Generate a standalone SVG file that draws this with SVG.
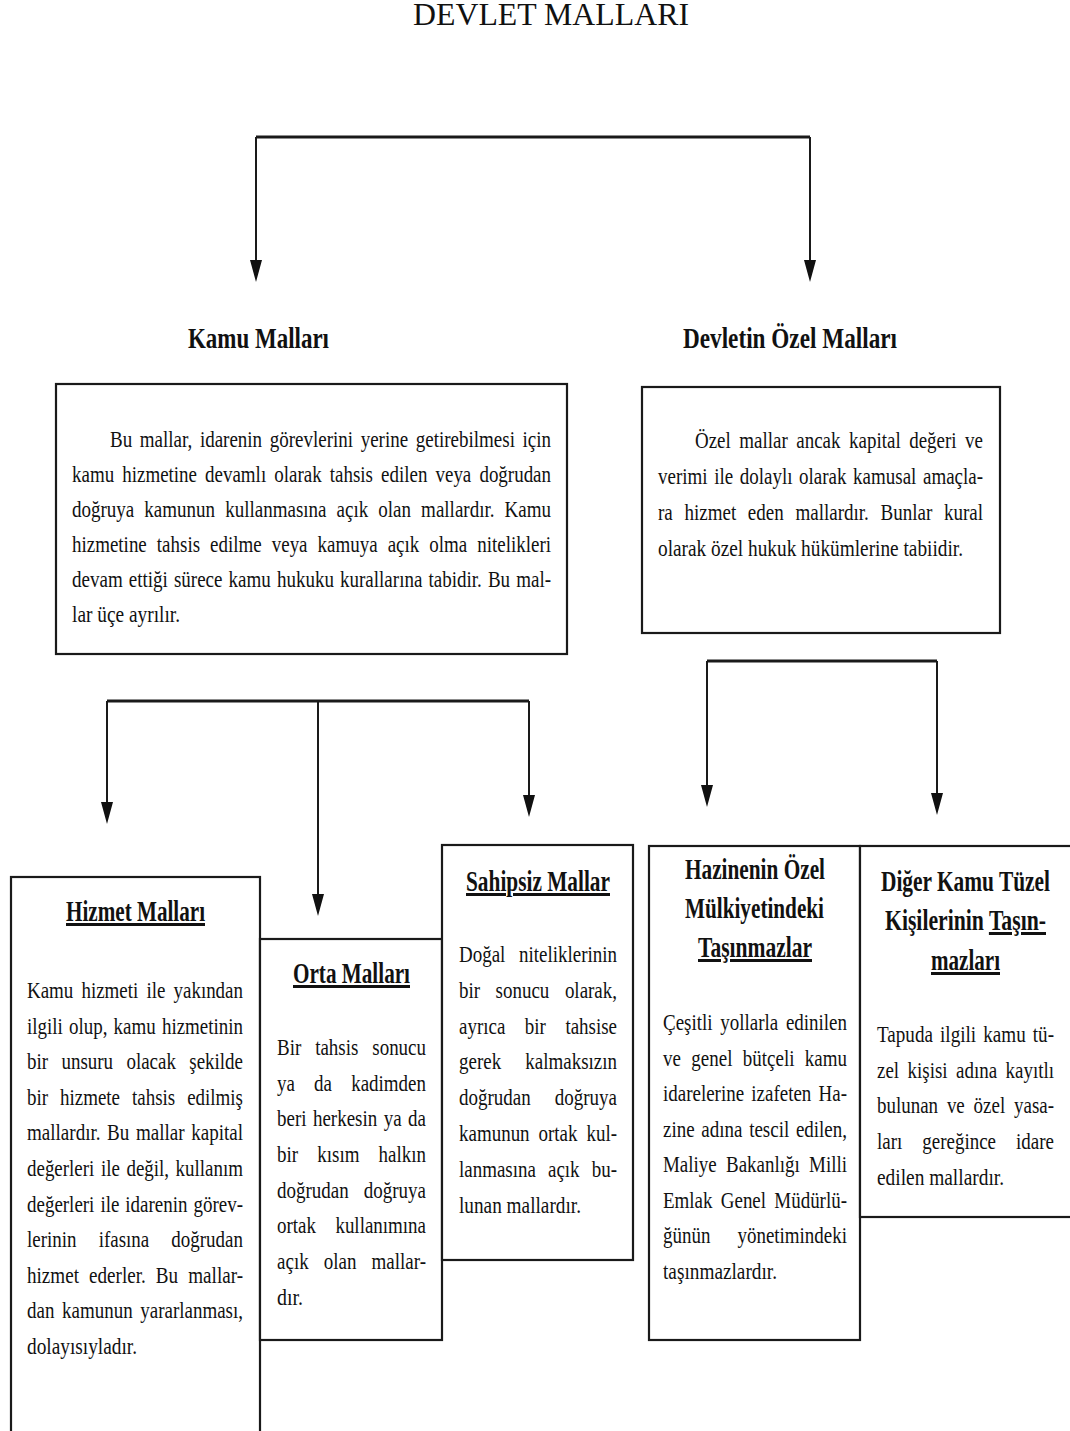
<svg xmlns="http://www.w3.org/2000/svg" width="1070" height="1431" viewBox="0 0 1070 1431">
<defs>
<style>
.box{fill:#fff;stroke:#1a1a1a;stroke-width:2.2}
.bar{stroke:#1a1a1a;stroke-width:3;fill:none}
.stem{stroke:#1a1a1a;stroke-width:2;fill:none;marker-end:url(#ah)}
.t{font-family:"Liberation Serif","Times New Roman",serif;fill:#111}
.title{font-size:32px}
.h{font-size:30px;font-weight:bold}
.b{font-size:24px}
.u{text-decoration:underline}
</style>
<marker id="ah" viewBox="0 0 22 12" refX="18" refY="6" markerWidth="22" markerHeight="12" markerUnits="userSpaceOnUse" orient="auto"><path d="M0,0 L22,6 L0,12 z" fill="#111"/></marker>
</defs>
<rect width="1070" height="1431" fill="#fff"/>
<text id="title" class="t title" x="413" y="25" textLength="276" lengthAdjust="spacingAndGlyphs">DEVLET MALLARI</text>

<g id="connectors">
<path class="bar" d="M256,137 H810"/>
<path class="stem" d="M256,137 V278"/>
<path class="stem" d="M810,137 V278"/>
<path class="bar" d="M107,701 H529"/>
<path class="stem" d="M107,701 V820"/>
<path class="stem" d="M318,701 V912"/>
<path class="stem" d="M529,701 V813"/>
<path class="bar" d="M707,661 H937"/>
<path class="stem" d="M707,661 V803"/>
<path class="stem" d="M937,661 V811"/>
</g>

<g id="kamu-mallari">
<text class="t h" x="188" y="348" textLength="141" lengthAdjust="spacingAndGlyphs">Kamu Malları</text>
<rect class="box" x="56" y="384" width="511" height="270"/>
<text class="t b" x="110" y="447" textLength="441" lengthAdjust="spacingAndGlyphs" style="word-spacing:3.6px">Bu mallar, idarenin görevlerini yerine getirebilmesi için</text>
<text class="t b" x="72" y="482" textLength="479" lengthAdjust="spacingAndGlyphs" style="word-spacing:4.3px">kamu hizmetine devamlı olarak tahsis edilen veya doğrudan</text>
<text class="t b" x="72" y="517" textLength="479" lengthAdjust="spacingAndGlyphs" style="word-spacing:6.7px">doğruya kamunun kullanmasına açık olan mallardır. Kamu</text>
<text class="t b" x="72" y="552" textLength="479" lengthAdjust="spacingAndGlyphs" style="word-spacing:6.7px">hizmetine tahsis edilme veya kamuya açık olma nitelikleri</text>
<text class="t b" x="72" y="587" textLength="479" lengthAdjust="spacingAndGlyphs" style="word-spacing:1.7px">devam ettiği sürece kamu hukuku kurallarına tabidir. Bu mal-</text>
<text class="t b" x="72" y="622" textLength="108" lengthAdjust="spacingAndGlyphs">lar üçe ayrılır.</text>
</g>

<g id="devletin-ozel-mallari">
<text class="t h" x="683" y="348" textLength="214" lengthAdjust="spacingAndGlyphs">Devletin Özel Malları</text>
<rect class="box" x="642" y="387" width="358" height="246"/>
<text class="t b" x="695" y="448" textLength="288" lengthAdjust="spacingAndGlyphs" style="word-spacing:4.8px">Özel mallar ancak kapital değeri ve</text>
<text class="t b" x="658" y="484" textLength="325" lengthAdjust="spacingAndGlyphs" style="word-spacing:2.4px">verimi ile dolaylı olarak kamusal amaçla-</text>
<text class="t b" x="658" y="520" textLength="325" lengthAdjust="spacingAndGlyphs" style="word-spacing:8.7px">ra hizmet eden mallardır. Bunlar kural</text>
<text class="t b" x="658" y="556" textLength="305" lengthAdjust="spacingAndGlyphs">olarak özel hukuk hükümlerine tabiidir.</text>
</g>

<g id="hizmet-mallari">
<rect class="box" x="11" y="877" width="249" height="600"/>
<text class="t h u" x="66" y="921" textLength="139" lengthAdjust="spacingAndGlyphs">Hizmet Malları</text>
<text class="t b" x="27" y="998" textLength="216" lengthAdjust="spacingAndGlyphs" style="word-spacing:4.3px">Kamu hizmeti ile yakından</text>
<text class="t b" x="27" y="1034" textLength="216" lengthAdjust="spacingAndGlyphs" style="word-spacing:1.8px">ilgili olup, kamu hizmetinin</text>
<text class="t b" x="27" y="1069" textLength="216" lengthAdjust="spacingAndGlyphs" style="word-spacing:10.9px">bir unsuru olacak şekilde</text>
<text class="t b" x="27" y="1105" textLength="216" lengthAdjust="spacingAndGlyphs" style="word-spacing:9.2px">bir hizmete tahsis edilmiş</text>
<text class="t b" x="27" y="1140" textLength="216" lengthAdjust="spacingAndGlyphs" style="word-spacing:2.3px">mallardır. Bu mallar kapital</text>
<text class="t b" x="27" y="1176" textLength="216" lengthAdjust="spacingAndGlyphs" style="word-spacing:2.3px">değerleri ile değil, kullanım</text>
<text class="t b" x="27" y="1212" textLength="216" lengthAdjust="spacingAndGlyphs" style="word-spacing:1.6px">değerleri ile idarenin görev-</text>
<text class="t b" x="27" y="1247" textLength="216" lengthAdjust="spacingAndGlyphs" style="word-spacing:22px">lerinin ifasına doğrudan</text>
<text class="t b" x="27" y="1283" textLength="216" lengthAdjust="spacingAndGlyphs" style="word-spacing:6.7px">hizmet ederler. Bu mallar-</text>
<text class="t b" x="27" y="1318" textLength="216" lengthAdjust="spacingAndGlyphs" style="word-spacing:3.7px">dan kamunun yararlanması,</text>
<text class="t b" x="27" y="1354" textLength="110" lengthAdjust="spacingAndGlyphs">dolayısıyladır.</text>
</g>

<g id="orta-mallari">
<rect class="box" x="260" y="939" width="182" height="401"/>
<text class="t h u" x="293" y="983" textLength="117" lengthAdjust="spacingAndGlyphs">Orta Malları</text>
<text class="t b" x="277" y="1055" textLength="149" lengthAdjust="spacingAndGlyphs" style="word-spacing:11.6px">Bir tahsis sonucu</text>
<text class="t b" x="277" y="1091" textLength="149" lengthAdjust="spacingAndGlyphs" style="word-spacing:18.3px">ya da kadimden</text>
<text class="t b" x="277" y="1126" textLength="149" lengthAdjust="spacingAndGlyphs" style="word-spacing:2.2px">beri herkesin ya da</text>
<text class="t b" x="277" y="1162" textLength="149" lengthAdjust="spacingAndGlyphs" style="word-spacing:18.3px">bir kısım halkın</text>
<text class="t b" x="277" y="1198" textLength="149" lengthAdjust="spacingAndGlyphs" style="word-spacing:13.3px">doğrudan doğruya</text>
<text class="t b" x="277" y="1233" textLength="149" lengthAdjust="spacingAndGlyphs" style="word-spacing:18.6px">ortak kullanımına</text>
<text class="t b" x="277" y="1269" textLength="149" lengthAdjust="spacingAndGlyphs" style="word-spacing:13px">açık olan mallar-</text>
<text class="t b" x="277" y="1305" textLength="26" lengthAdjust="spacingAndGlyphs">dır.</text>
</g>

<g id="sahipsiz-mallar">
<rect class="box" x="442" y="845" width="191" height="415"/>
<text class="t h u" x="466" y="891" textLength="144" lengthAdjust="spacingAndGlyphs">Sahipsiz Mallar</text>
<text class="t b" x="459" y="962" textLength="158" lengthAdjust="spacingAndGlyphs" style="word-spacing:11.4px">Doğal niteliklerinin</text>
<text class="t b" x="459" y="998" textLength="158" lengthAdjust="spacingAndGlyphs" style="word-spacing:13.7px">bir sonucu olarak,</text>
<text class="t b" x="459" y="1034" textLength="158" lengthAdjust="spacingAndGlyphs" style="word-spacing:18.7px">ayrıca bir tahsise</text>
<text class="t b" x="459" y="1069" textLength="158" lengthAdjust="spacingAndGlyphs" style="word-spacing:24.7px">gerek kalmaksızın</text>
<text class="t b" x="459" y="1105" textLength="158" lengthAdjust="spacingAndGlyphs" style="word-spacing:24.7px">doğrudan doğruya</text>
<text class="t b" x="459" y="1141" textLength="158" lengthAdjust="spacingAndGlyphs" style="word-spacing:5.3px">kamunun ortak kul-</text>
<text class="t b" x="459" y="1177" textLength="158" lengthAdjust="spacingAndGlyphs" style="word-spacing:9.4px">lanmasına açık bu-</text>
<text class="t b" x="459" y="1213" textLength="122" lengthAdjust="spacingAndGlyphs">lunan mallardır.</text>
</g>

<g id="hazinenin-ozel">
<rect class="box" x="649" y="846" width="211" height="494"/>
<text class="t h" x="685" y="879" textLength="140" lengthAdjust="spacingAndGlyphs">Hazinenin Özel</text>
<text class="t h" x="685" y="918" textLength="139" lengthAdjust="spacingAndGlyphs">Mülkiyetindeki</text>
<text class="t h u" x="698" y="957" textLength="114" lengthAdjust="spacingAndGlyphs">Taşınmazlar</text>
<text class="t b" x="663" y="1030" textLength="184" lengthAdjust="spacingAndGlyphs" style="word-spacing:3.8px">Çeşitli yollarla edinilen</text>
<text class="t b" x="663" y="1066" textLength="184" lengthAdjust="spacingAndGlyphs" style="word-spacing:7.2px">ve genel bütçeli kamu</text>
<text class="t b" x="663" y="1101" textLength="184" lengthAdjust="spacingAndGlyphs" style="word-spacing:3.2px">idarelerine izafeten Ha-</text>
<text class="t b" x="663" y="1137" textLength="184" lengthAdjust="spacingAndGlyphs" style="word-spacing:2.5px">zine adına tescil edilen,</text>
<text class="t b" x="663" y="1172" textLength="184" lengthAdjust="spacingAndGlyphs" style="word-spacing:5.8px">Maliye Bakanlığı Milli</text>
<text class="t b" x="663" y="1208" textLength="184" lengthAdjust="spacingAndGlyphs" style="word-spacing:4.5px">Emlak Genel Müdürlü-</text>
<text class="t b" x="663" y="1243" textLength="184" lengthAdjust="spacingAndGlyphs" style="word-spacing:28.2px">ğünün yönetimindeki</text>
<text class="t b" x="663" y="1279" textLength="114" lengthAdjust="spacingAndGlyphs">taşınmazlardır.</text>
</g>

<g id="diger-kamu-tuzel">
<rect class="box" x="860" y="846" width="220" height="371"/>
<text class="t h" x="881" y="891" textLength="169" lengthAdjust="spacingAndGlyphs">Diğer Kamu Tüzel</text>
<text class="t h" x="885" y="930" textLength="161" lengthAdjust="spacingAndGlyphs">Kişilerinin <tspan class="u">Taşın-</tspan></text>
<text class="t h u" x="931" y="970" textLength="69" lengthAdjust="spacingAndGlyphs">mazları</text>
<text class="t b" x="877" y="1042" textLength="177" lengthAdjust="spacingAndGlyphs" style="word-spacing:2.9px">Tapuda ilgili kamu tü-</text>
<text class="t b" x="877" y="1078" textLength="177" lengthAdjust="spacingAndGlyphs" style="word-spacing:4.7px">zel kişisi adına kayıtlı</text>
<text class="t b" x="877" y="1113" textLength="177" lengthAdjust="spacingAndGlyphs" style="word-spacing:5.2px">bulunan ve özel yasa-</text>
<text class="t b" x="877" y="1149" textLength="177" lengthAdjust="spacingAndGlyphs" style="word-spacing:19.4px">ları gereğince idare</text>
<text class="t b" x="877" y="1185" textLength="127" lengthAdjust="spacingAndGlyphs">edilen mallardır.</text>
</g>
</svg>
